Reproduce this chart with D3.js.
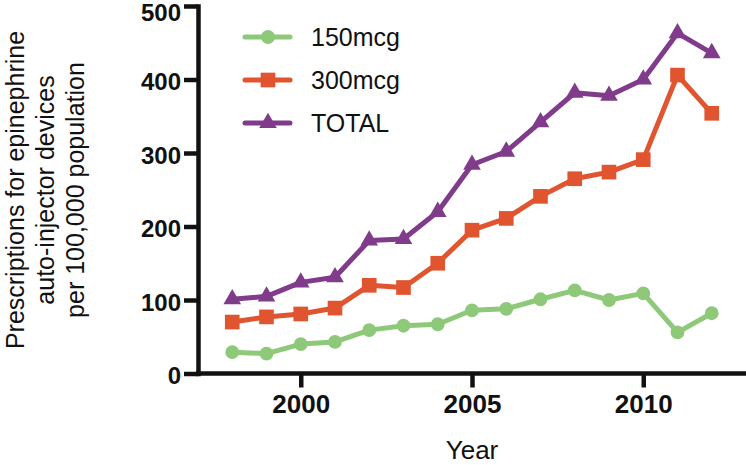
<!DOCTYPE html>
<html>
<head>
<meta charset="utf-8">
<script src="https://cdn.jsdelivr.net/npm/d3@7"></script>
<style>
  html, body { margin: 0; padding: 0; background: #fff; }
  svg { display: block; font-family: "Liberation Sans", Arial, Helvetica, sans-serif; }
</style>
</head>
<body>
<svg id="chart" width="746" height="465"></svg>
<script>
const years = [1998,1999,2000,2001,2002,2003,2004,2005,2006,2007,2008,2009,2010,2011,2012];
const mcg150 = [29,27,40,43,59,65,67,86,88,101,113,100,109,56,82];
const mcg300 = [70,77,81,89,120,117,150,195,211,241,265,274,291,406,354];
const total  = [101,105,124,131,181,183,220,284,302,342,382,378,400,463,436];
const seriesNames = ["150mcg","300mcg","TOTAL"];
const xTicks = [2000,2005,2010];
const yTicks = [0,100,200,300,400,500];

const colors = ["#8EC97A","#E0542F","#803B8A"];
const symbols = [d3.symbolCircle, d3.symbolSquare, d3.symbolTriangle];
const symSizes = [150, 215, 135];
const seriesVals = [mcg150, mcg300, total];

const svg = d3.select("#chart");
const x = d3.scaleLinear().domain([1997, 2013]).range([198, 746]);
const y = d3.scaleLinear().domain([0, 500]).range([373.5, 6]);

// axes
const xAxis = d3.axisBottom(x).tickValues(xTicks).tickFormat(d3.format("d")).tickSize(14).tickSizeOuter(0).tickPadding(7);
const yAxis = d3.axisLeft(y).tickValues(yTicks).tickFormat(d3.format("d")).tickSize(14).tickSizeOuter(0).tickPadding(3);

const gx = svg.append("g").attr("transform", `translate(0,${y(0)})`).call(xAxis);
const gy = svg.append("g").attr("transform", `translate(${x(1997)},0)`).call(yAxis);
[gx, gy].forEach(g => {
  g.selectAll("path.domain").attr("stroke", "#111").attr("stroke-width", 4.5);
  g.selectAll(".tick line").attr("stroke", "#111").attr("stroke-width", 4.5);
  g.selectAll(".tick text").attr("fill", "#111").attr("font-weight", "bold")
    .attr("font-family", "'Liberation Sans', Arial, sans-serif");
});
gx.selectAll(".tick text").attr("font-size", 26);
gy.selectAll(".tick text").attr("font-size", 24)
  .attr("dy", d => d === 500 ? "0.62em" : "0.42em");
gy.select("path.domain").attr("stroke-linecap", "square");
gx.select("path.domain").attr("d", `M${x(1997)-2},0H${x(2013)}`);

// series
const line = d3.line().x((d, i) => x(years[i])).y(d => y(d));
seriesVals.forEach((vals, s) => {
  svg.append("path").datum(vals).attr("d", line)
    .attr("fill", "none").attr("stroke", colors[s]).attr("stroke-width", 5)
    .attr("stroke-linejoin", "round");
  svg.append("g").selectAll("path").data(vals).join("path")
    .attr("transform", (d, i) => `translate(${x(years[i])},${y(d)})`)
    .attr("d", d3.symbol().type(symbols[s]).size(symSizes[s]))
    .attr("fill", colors[s]);
});

// legend
const legY = [37, 80, 123];
seriesNames.forEach((name, s) => {
  const g = svg.append("g").attr("transform", `translate(0,${legY[s]})`);
  g.append("line").attr("x1", 245).attr("x2", 290).attr("y1", 0).attr("y2", 0)
    .attr("stroke", colors[s]).attr("stroke-width", 5).attr("stroke-linecap", "round");
  g.append("path").attr("transform", "translate(268,0)")
    .attr("d", d3.symbol().type(symbols[s]).size(symSizes[s])).attr("fill", colors[s]);
  g.append("text").attr("x", 311).attr("y", 0).attr("dy", "0.36em")
    .attr("font-size", 25).attr("fill", "#111").text(name);
});

// axis titles
svg.append("text").attr("x", 472).attr("y", 459).attr("text-anchor", "middle")
  .attr("font-size", 26).attr("fill", "#111").text("Year");

const yTitle = ["Prescriptions for epinephrine", "auto-injector devices", "per 100,000 population"];
const yt = svg.append("text").attr("transform", "translate(0,190) rotate(-90)")
  .attr("text-anchor", "middle").attr("font-size", 25).attr("fill", "#111");
yTitle.forEach((t, i) => {
  yt.append("tspan").attr("x", 0).attr("y", 24 + i * 30).text(t);
});
</script>
</body>
</html>
